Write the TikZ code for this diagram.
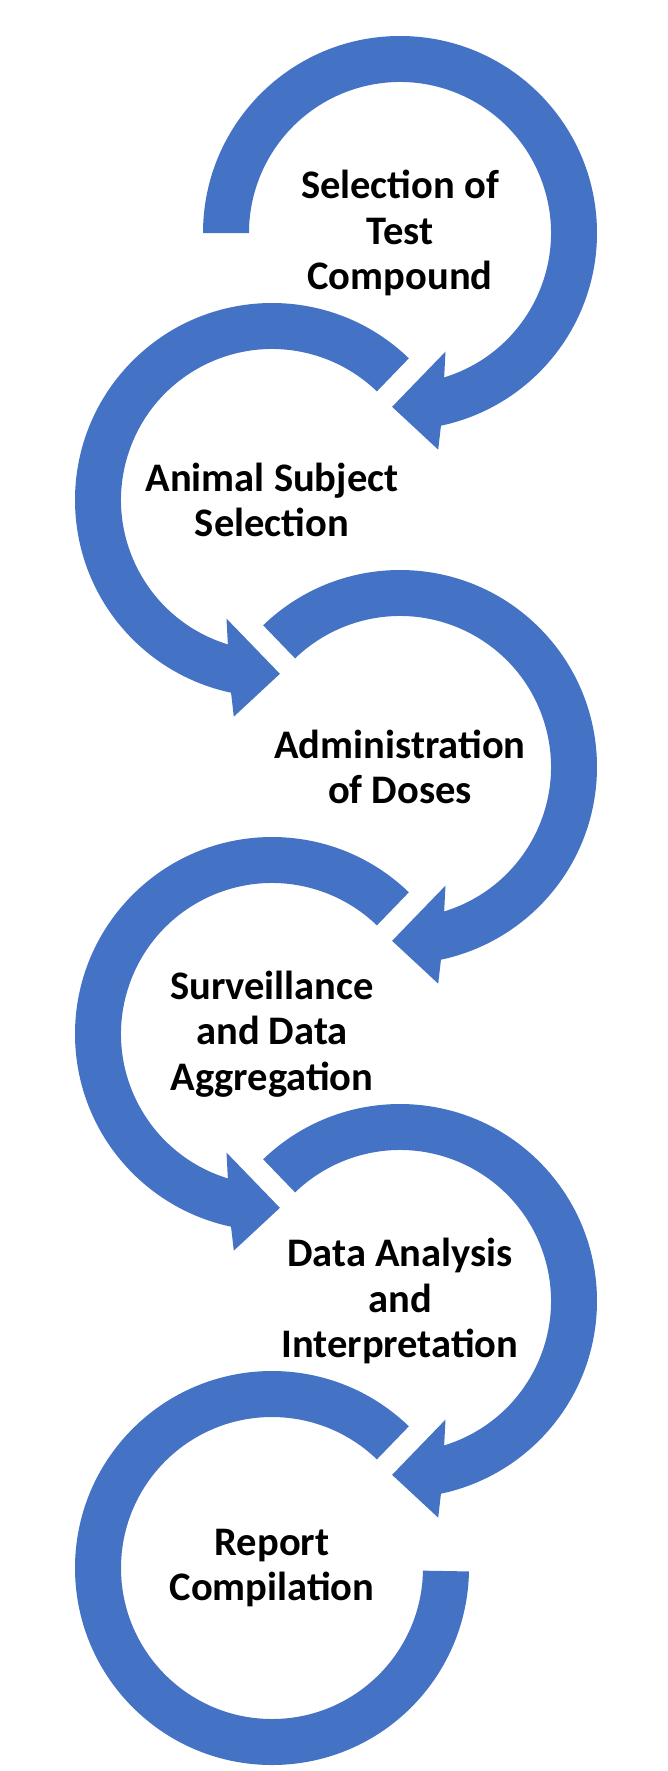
\documentclass[tikz,border=0pt]{standalone}
\usepackage{fontspec}
\setmainfont{Carlito}
\usetikzlibrary{positioning}
\definecolor{loopc}{RGB}{68,114,196}

\tikzset{
  loopfill/.style={fill=loopc},
  steptext/.style={align=center,text=black,font=\bfseries\fontsize{34.6}{38.6}\selectfont}
}

% one turn of the spiral: outer arc, arrow head, inner arc back
\newcommand{\turnarrow}[1]{%
  (#1:197) arc[start angle=#1, end angle=-78, radius=197] -- (-80:220) -- (-92.6:174)
  -- (-69:127) -- (-73:151) arc[start angle=-73, end angle=#1, radius=151] -- cycle}

\begin{document}
\begin{tikzpicture}[x=0.3mm,y=0.3mm]
\useasboundingbox (0,0) rectangle (667,-1771);

\coordinate (c1) at (400,-233);
\coordinate (c2) at (272,-500);
\coordinate (c3) at (400,-767);
\coordinate (c4) at (272,-1034);
\coordinate (c5) at (400,-1301);
\coordinate (c6) at (272,-1568);

\fill[loopfill,shift={(c1)}] \turnarrow{180};
\fill[loopfill,shift={(c2)},xscale=-1] \turnarrow{134};
\fill[loopfill,shift={(c3)}] \turnarrow{134};
\fill[loopfill,shift={(c4)},xscale=-1] \turnarrow{134};
\fill[loopfill,shift={(c5)}] \turnarrow{134};
% last one closes without a head
\fill[loopfill,shift={(c6)}] (46:197) arc[start angle=46, end angle=359, radius=197]
  -- (359:151) arc[start angle=359, end angle=46, radius=151] -- cycle;

\node[steptext] (t1) at (c1) {Selection of\\Test\\Compound};
\node[steptext] (t2) at (c2) {Animal Subject\\Selection};
\node[steptext] (t3) at (c3) {Administration\\of Doses};
\node[steptext] (t4) at (c4) {Surveillance\\and Data\\Aggregation};
\node[steptext] (t5) at (c5) {Data Analysis\\and\\Interpretation};
\node[steptext] (t6) at (c6) {Report\\Compilation};
\end{tikzpicture}
\end{document}
